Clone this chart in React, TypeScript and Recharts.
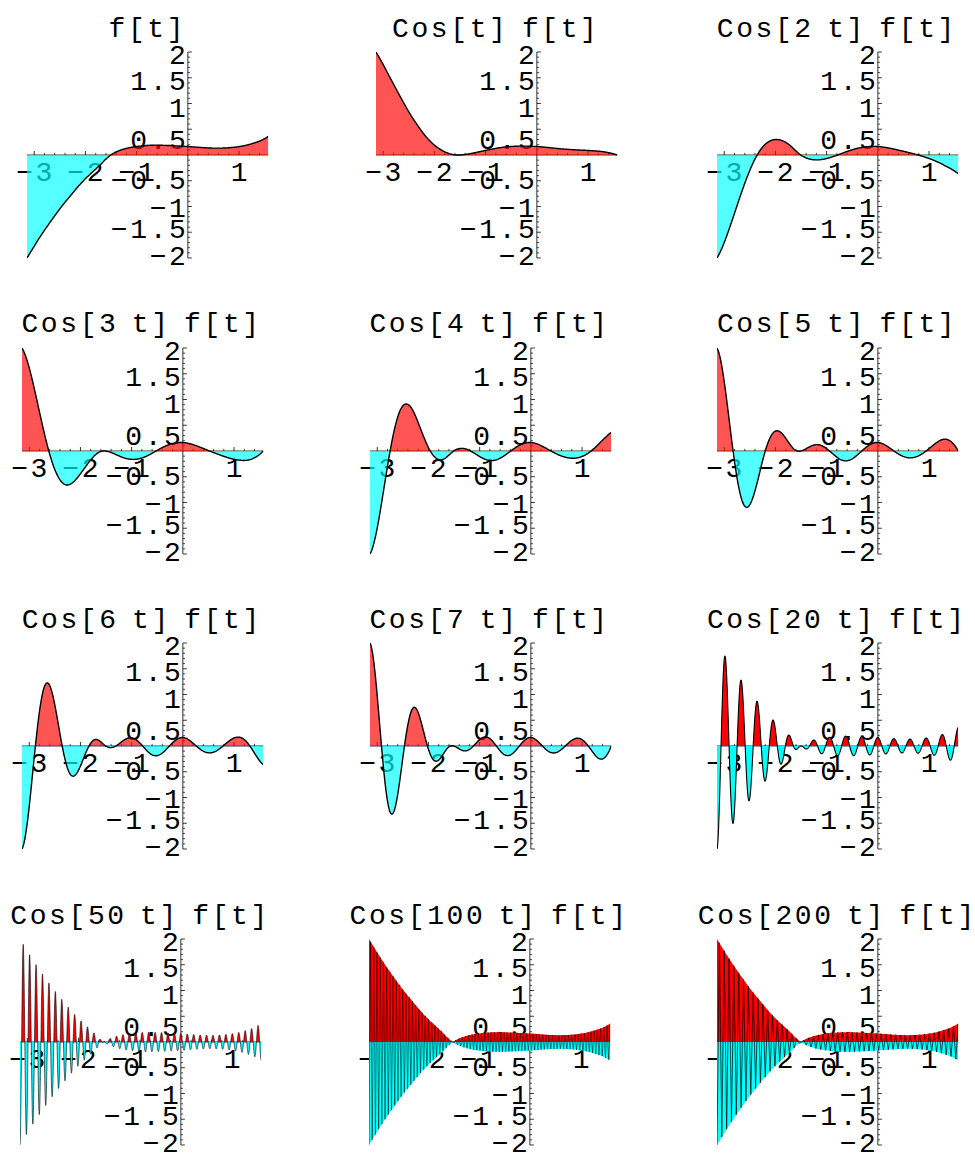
import React from "react";
import { ComposedChart, Area, Line, Scatter, XAxis, YAxis, ReferenceLine } from "recharts";

// f[t]
const F_T = [-3.1416, -3.0, -2.9, -2.75, -2.6, -2.45, -2.3, -2.15, -2.0, -1.85, -1.7, -1.6, -1.5, -1.4, -1.3, -1.15, -0.95, -0.7, -0.4, -0.1, 0, 0.2, 0.45, 0.7, 0.9, 1.1, 1.3, 1.45, 1.5708];
const F_V = [-2.0, -1.77, -1.61, -1.39, -1.18, -0.98, -0.8, -0.62, -0.46, -0.32, -0.18, -0.08, 0.005, 0.06, 0.1, 0.14, 0.17, 0.19, 0.185, 0.17, 0.165, 0.15, 0.135, 0.135, 0.15, 0.18, 0.235, 0.29, 0.36];

// one panel per frequency k in Cos[k t] f[t] (k = 0 is f[t] itself)
const FREQS = [0, 1, 2, 3, 4, 5, 6, 7, 20, 50, 100, 200];
const TITLES = [
  "f[t]", "Cos[t] f[t]", "Cos[2 t] f[t]",
  "Cos[3 t] f[t]", "Cos[4 t] f[t]", "Cos[5 t] f[t]",
  "Cos[6 t] f[t]", "Cos[7 t] f[t]", "Cos[20 t] f[t]",
  "Cos[50 t] f[t]", "Cos[100 t] f[t]", "Cos[200 t] f[t]",
];

const X_MAJOR = [-3, -2, -1, 1];
const X_LABELS = ["−3", "−2", "−1", "1"];
const Y_MAJOR = [2, 1.5, 1, 0.5, -0.5, -1, -1.5, -2];
const Y_LABELS = ["2", "1.5", "1", "0.5", "−0.5", "−1", "−1.5", "−2"];

// layout
const T0 = -Math.PI;
const T1 = Math.PI / 2;
const SX = 51.2;
const SY = 51.5;
const PW = (T1 - T0) * SX;
const PH = 4 * SY;
const M = { top: 10, right: 24, bottom: 34, left: 24 };
const AXIS_X = [188.3, 536.7, 877.8, 182.5, 530.5, 878, 182.7, 530.5, 877.7, 181, 530, 878.3];
const ZERO_Y = [155, 450.7, 746.2, 1042.2];
const Y_NUDGE = [2.2, 2, 3.2, 10.2, -1.5, 0.7, -3.8, -3];

const FONT = "'Liberation Mono', 'DejaVu Sans Mono', monospace";
const FS = 28;
const LS = 2.6;

const X_MINOR: number[] = [];
for (let i = -15; i <= 7; i++) if (i % 5 !== 0) X_MINOR.push(i / 5);
const Y_MINOR: number[] = [];
for (let i = -20; i <= 20; i++) if (i % 5 !== 0) Y_MINOR.push(i / 10);

function fAt(t: number) {
  const n = F_T.length;
  if (t <= F_T[0]) return F_V[0];
  if (t >= F_T[n - 1]) return F_V[n - 1];
  let i = 0;
  while (F_T[i + 1] < t) i++;
  const slope = (j: number) => (F_V[j + 1] - F_V[j]) / (F_T[j + 1] - F_T[j]);
  const m0 = i === 0 ? slope(0) : (slope(i - 1) + slope(i)) / 2;
  const m1 = i + 1 === n - 1 ? slope(i) : (slope(i) + slope(i + 1)) / 2;
  const h = F_T[i + 1] - F_T[i];
  const s = (t - F_T[i]) / h;
  const s2 = s * s, s3 = s2 * s;
  return (2 * s3 - 3 * s2 + 1) * F_V[i] + (s3 - 2 * s2 + s) * h * m0 + (-2 * s3 + 3 * s2) * F_V[i + 1] + (s3 - s2) * h * m1;
}

function buildSeries(k: number) {
  const pts = [];
  if (k >= 100) {
    // very fast: fill the envelope, line through sparse samples
    const step = (k === 100 ? 1 : 3) * Math.PI / k;
    const n = Math.round((T1 - T0) / step);
    for (let i = 0; i <= n; i++) {
      const t = T0 + i * step;
      const f = fAt(t);
      const v = Math.cos(k * t) * f;
      pts.push({ t, v, pos: Math.abs(f), neg: -Math.abs(f) });
    }
  } else {
    const n = k <= 7 ? 480 : k === 20 ? 1200 : 2400;
    for (let i = 0; i <= n; i++) {
      const t = T0 + ((T1 - T0) * i) / n;
      const v = Math.cos(k * t) * fAt(t);
      pts.push({ t, v, pos: Math.max(v, 0), neg: Math.min(v, 0) });
    }
  }
  return pts;
}

const xMajorData = X_MAJOR.map((x, i) => ({ x, y: 0, label: X_LABELS[i] }));
const xMinorData = X_MINOR.map((x) => ({ x, y: 0 }));
const yMajorData = Y_MAJOR.map((y, i) => ({ x: 0, y, label: Y_LABELS[i], nudge: Y_NUDGE[i] }));
const yMinorData = Y_MINOR.map((y) => ({ x: 0, y }));

const txt = { fontFamily: FONT, fontSize: FS, letterSpacing: LS, wordSpacing: -6, fill: "#000" };

const XMajorTick = (p: any) => (
  <g>
    <line x1={p.cx} y1={p.cy} x2={p.cx} y2={p.cy - 4} stroke="#000" strokeWidth={0.8} />
    <text x={p.cx + LS / 2} y={p.cy + 26} textAnchor="middle" style={txt}>{p.payload.label}</text>
  </g>
);
const XMinorTick = (p: any) => (
  <line x1={p.cx} y1={p.cy} x2={p.cx} y2={p.cy - 2.2} stroke="#000" strokeWidth={0.7} />
);
const YMajorTick = (p: any) => (
  <g>
    <line x1={p.cx} y1={p.cy} x2={p.cx + 4} y2={p.cy} stroke="#000" strokeWidth={0.8} />
    <text x={p.cx - 2 + LS} y={p.cy + 10 + p.payload.nudge} textAnchor="end" style={txt}>{p.payload.label}</text>
  </g>
);
const YMinorTick = (p: any) => (
  <line x1={p.cx} y1={p.cy} x2={p.cx + 2.2} y2={p.cy} stroke="#000" strokeWidth={0.7} />
);

function Panel({ idx }: { idx: number }) {
  const k = FREQS[idx];
  const row = Math.floor(idx / 3);
  const axisX = AXIS_X[idx];
  const zeroY = ZERO_Y[row];
  const left = axisX + T0 * SX - M.left;
  const top = zeroY - 2 * SY - M.top;
  const W = PW + M.left + M.right;
  const H = PH + M.top + M.bottom;
  const data = buildSeries(k);
  const solid = k >= 20;
  const op = solid ? 1 : 0.67;
  const lineW = k === 100 ? 0.5 : k === 200 ? 0.7 : k === 50 ? 0.6 : k === 20 ? 1.1 : 1.4;
  const titleX = axisX + ((T0 + T1) / 2) * SX;

  return (
    <>
      <svg style={{ position: "absolute", left: 0, top: 0, overflow: "visible" }} width={1} height={1}>
        <text x={titleX + LS / 2 - 2} y={zeroY - 118.5} textAnchor="middle" style={txt}>{TITLES[idx]}</text>
      </svg>
      <div style={{ position: "absolute", left, top }}>
        <ComposedChart width={W} height={H} margin={M}>
          <XAxis type="number" dataKey="x" domain={[T0, T1]} hide />
          <YAxis type="number" dataKey="y" domain={[-2, 2]} hide />
          <ReferenceLine y={0} stroke="#000" strokeWidth={0.8} />
          <ReferenceLine x={0} stroke="#000" strokeWidth={0.8} />
          <Scatter data={xMinorData} shape={XMinorTick} isAnimationActive={false} />
          <Scatter data={yMinorData} shape={YMinorTick} isAnimationActive={false} />
          <Scatter data={xMajorData} shape={XMajorTick} isAnimationActive={false} />
          <Scatter data={yMajorData} shape={YMajorTick} isAnimationActive={false} />
        </ComposedChart>
      </div>
      <div style={{ position: "absolute", left, top }}>
        <ComposedChart width={W} height={H} margin={M} data={data}>
          <XAxis type="number" dataKey="t" domain={[T0, T1]} hide allowDataOverflow />
          <YAxis type="number" domain={[-2, 2]} hide allowDataOverflow />
          <Area type="linear" dataKey="pos" baseValue={0} stroke="none" fill="#ff0000" fillOpacity={op} isAnimationActive={false} />
          <Area type="linear" dataKey="neg" baseValue={0} stroke="none" fill="#00ffff" fillOpacity={op} isAnimationActive={false} />
          <Line type="linear" dataKey="v" stroke="#000" strokeWidth={lineW} dot={false} isAnimationActive={false} />
        </ComposedChart>
      </div>
    </>
  );
}

export default function App() {
  return (
    <div style={{ position: "absolute", left: 0, top: 0, width: 975, height: 1157, background: "#fff" }}>
      {FREQS.map((_, i) => (
        <Panel key={i} idx={i} />
      ))}
    </div>
  );
}
